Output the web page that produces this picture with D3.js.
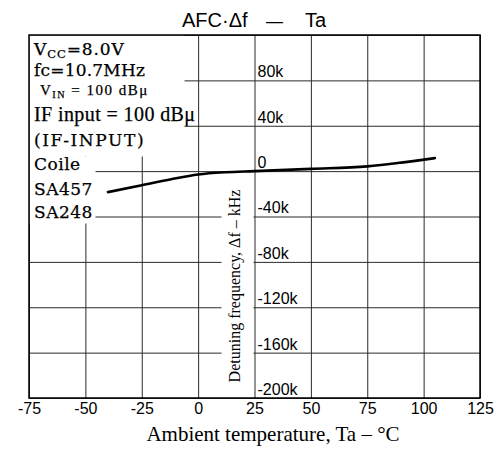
<!DOCTYPE html>
<html><head><meta charset="utf-8">
<script src="https://cdn.jsdelivr.net/npm/d3@7"></script>
<style>body{margin:0;background:#fff}</style>
</head><body><svg id="c" width="500" height="450"></svg>
<script>
// ---- data ----
const tempTicks = [-75, -50, -25, 0, 25, 50, 75, 100, 125];
const tempLabels = ["-75", "-50", "-25", "0", "25", "50", "75", "100", "125"];
const freqTicks = [120, 80, 40, 0, -40, -80, -120, -160, -200];
const freqLabels = ["", "80k", "40k", "0", "-40k", "-80k", "-120k", "-160k", "-200k"];
const curveTemp = [-40, -25, -12, 0, 12, 25, 50, 75, 90, 105];
const curveDf = [-18.5, -12.5, -7.2, -3, -1, 0, 2, 4.2, 7.5, 11.5];
const infoLines = [
  [["V", ""], ["CC", "sub"], ["=8.0V", ""]],
  [["fc=10.7MHz", ""]],
  [["V", ""], ["IN", "sub"], [" = 100 dBμ", ""]],
  [["IF input = 100 dBμ", ""]],
  [["(IF-INPUT)", ""]],
  [["Coile", ""]],
  [["SA457", ""]],
  [["SA248", ""]]
];
const titleParts = ["AFC·Δf", "—", "Ta"];
const xTitle = "Ambient temperature, Ta – °C";
const yTitle = "Detuning frequency, Δf – kHz";

// ---- layout ----
const L = 29, R = 480, T = 35, B = 398;
const svg = d3.select("#c");
const x = d3.scaleLinear().domain([-75, 125]).range([L, R]);
const y = d3.scaleLinear().domain([-200, 120]).range([B, T]);

// gridlines
const gx = svg.append("g").attr("transform", `translate(0,${B})`)
  .call(d3.axisBottom(x).tickValues(tempTicks).tickSize(-(B - T)).tickFormat(""));
const gy = svg.append("g").attr("transform", `translate(${L},0)`)
  .call(d3.axisLeft(y).tickValues(freqTicks).tickSize(-(R - L)).tickFormat(""));
[gx, gy].forEach(g => {
  g.select(".domain").remove();
  g.selectAll("line").attr("stroke", "#2a2a2a").attr("stroke-width", 1);
});

// white masks behind the condition text
const masks = [[L, T, 184, 140], [L, 140, 146, 156], [L, 156, 95, 223], [221, 186, 253, 386]];
svg.append("g").selectAll("rect").data(masks).join("rect")
  .attr("x", d => d[0] + 0.5).attr("y", d => d[1] + 0.5)
  .attr("width", d => d[2] - d[0]).attr("height", d => d[3] - d[1])
  .attr("fill", "#fff");

// condition text
const lineY = [55, 76, 95, 121, 146, 170, 195, 218];
const lineX = [34, 34, 40, 34, 34, 34, 34, 34];
const lineFont = ["DejaVu Serif", "DejaVu Serif", "Liberation Serif", "Liberation Serif", "DejaVu Serif", "DejaVu Serif", "DejaVu Serif", "DejaVu Serif"];
const lineSize = [17, 17, 15, 20, 17, 17, 17, 17];
const lineSpacing = [0.9, 0.2, 1.5, 0.4, 1.6, 0.5, 0.5, 0.5];
const info = svg.append("g");
infoLines.forEach((segs, i) => {
  const t = info.append("text").attr("x", lineX[i]).attr("y", lineY[i])
    .attr("font-family", lineFont[i]).attr("font-size", lineSize[i])
    .attr("letter-spacing", lineSpacing[i]).attr("fill", "#000")
    .attr("stroke", "#000").attr("stroke-width", 0.25)
    .style("white-space", "pre");
  segs.forEach((s, j) => {
    const ts = t.append("tspan").text(s[0]);
    if (s[1] === "sub") ts.attr("font-size", lineSize[i] * 0.68).attr("dy", 3);
    else if (j > 0 && segs[j - 1][1] === "sub") ts.attr("dy", -3);
  });
});

// curve
const pts = curveTemp.map((t, i) => [t, curveDf[i]]);
svg.append("path").datum(pts)
  .attr("d", d3.line().x(d => x(d[0])).y(d => y(d[1])).curve(d3.curveMonotoneX))
  .attr("fill", "none").attr("stroke", "#000").attr("stroke-width", 2.6).attr("stroke-linecap", "round");

// frame
svg.append("rect").attr("x", L).attr("y", T).attr("width", R - L).attr("height", B - T)
  .attr("fill", "none").attr("stroke", "#000").attr("stroke-width", 1.5);

// x tick labels
const xa = svg.append("g").attr("transform", `translate(0,${B})`)
  .call(d3.axisBottom(x).tickValues(tempTicks).tickSize(0).tickPadding(5)
    .tickFormat((d, i) => tempLabels[i]));
xa.select(".domain").remove();
xa.selectAll("text").attr("font-family", "Liberation Sans").attr("font-size", 16).attr("fill", "#000");

// y tick labels (to the right of the 25 °C line)
const ya = svg.append("g").attr("transform", `translate(${x(25)},0)`)
  .call(d3.axisRight(y).tickValues(freqTicks).tickSize(0).tickPadding(3)
    .tickFormat((d, i) => freqLabels[i]));
ya.select(".domain").remove();
ya.selectAll("text").attr("dy", "-0.22em")
  .attr("font-family", "Liberation Sans").attr("font-size", 16).attr("fill", "#000");

// title
const tt = svg.append("text").attr("y", 27).attr("font-family", "Liberation Sans").attr("font-size", 20).attr("fill", "#000");
tt.append("tspan").attr("x", 182).text(titleParts[0]);
tt.append("tspan").attr("x", 266).attr("font-size", 17).text(titleParts[1]);
tt.append("tspan").attr("x", 305).text(titleParts[2]);

// axis titles
svg.append("text").attr("x", 273).attr("y", 441).attr("text-anchor", "middle")
  .attr("font-family", "Liberation Serif").attr("font-size", 21).attr("fill", "#000").text(xTitle);
svg.append("text").attr("transform", "translate(240,286) rotate(-90)").attr("text-anchor", "middle")
  .attr("font-family", "Liberation Serif").attr("font-size", 16).attr("fill", "#000").text(yTitle);
</script></body></html>
